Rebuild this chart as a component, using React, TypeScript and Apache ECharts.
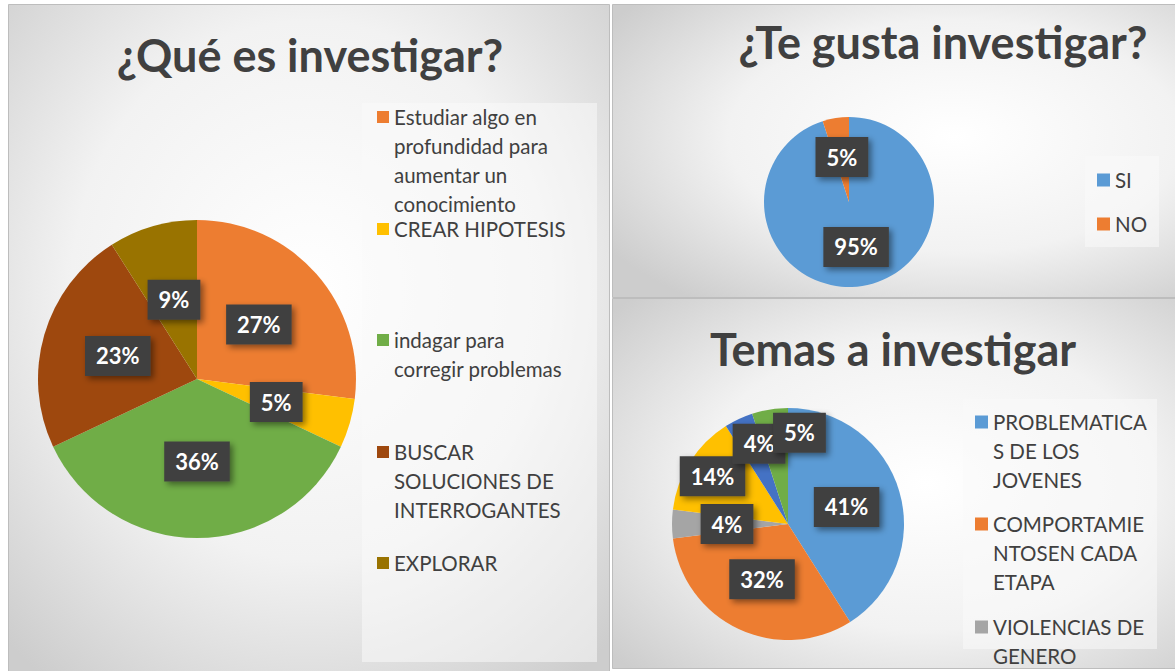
import React, { useEffect, useRef } from "react";
import * as echarts from "echarts";

// ---------- data ----------
const queCategories = [
  "Estudiar algo en profundidad para aumentar un conocimiento",
  "CREAR HIPOTESIS",
  "indagar para corregir problemas",
  "BUSCAR SOLUCIONES DE INTERROGANTES",
  "EXPLORAR",
];
const queValues = [27, 5, 36, 23, 9];
const queLegendLines = [
  ["Estudiar algo en", "profundidad para", "aumentar un", "conocimiento"],
  ["CREAR HIPOTESIS"],
  ["indagar para", "corregir problemas"],
  ["BUSCAR", "SOLUCIONES DE", "INTERROGANTES"],
  ["EXPLORAR"],
];

const gustaCategories = ["SI", "NO"];
const gustaValues = [95, 5];

const temasCategories = [
  "PROBLEMATICAS DE LOS JOVENES",
  "COMPORTAMIENTOSEN CADA ETAPA",
  "VIOLENCIAS DE GENERO",
  "Tema 4",
  "Tema 5",
  "Tema 6",
];
const temasValues = [41, 32, 4, 14, 4, 5];
const temasLegendLines = [
  ["PROBLEMATICA", "S DE LOS", "JOVENES"],
  ["COMPORTAMIE", "NTOSEN CADA", "ETAPA"],
  ["VIOLENCIAS DE", "GENERO"],
];

// ---------- styles ----------
const FONT = "Lato, 'Open Sans', sans-serif";
const queColors = ["#ED7D31", "#FFC000", "#70AD47", "#9E480E", "#997300"];
const gustaColors = ["#5B9BD5", "#ED7D31"];
const temasColors = ["#5B9BD5", "#ED7D31", "#A5A5A5", "#FFC000", "#4472C4", "#70AD47"];
const temasLabelNudge = [
  [0, 0],
  [0, 0],
  [0, 0],
  [-24, -15],
  [-3, -25],
  [21, -31],
];
const LINE_H = 29;

function labelStyle() {
  return {
    show: true,
    position: "inside",
    formatter: (p: any) => p.value + "%",
    color: "#ffffff",
    fontWeight: "bold",
    fontSize: 22,
    fontFamily: FONT,
    backgroundColor: "#404040",
    padding: [9, 11, 9, 11],
    shadowColor: "rgba(0,0,0,0.45)",
    shadowBlur: 6,
    shadowOffsetX: 3,
    shadowOffsetY: 3,
  };
}

function legendFor(name: string, lines: string[], left: number, iconY: number, icon: number) {
  const n = lines.length;
  const text = "\n".repeat(n - 1) + lines.join("\n");
  const blockH = (2 * n - 1) * LINE_H;
  return {
    data: [name],
    left,
    top: iconY - blockH / 2,
    orient: "vertical",
    padding: 0,
    icon: "rect",
    itemWidth: icon,
    itemHeight: icon,
    selectedMode: false,
    formatter: () => text,
    textStyle: {
      fontFamily: FONT,
      fontSize: 20.5,
      color: "#404040",
      lineHeight: LINE_H,
    },
  };
}

function panelBg(x: number, y: number, w: number, h: number, cx: number, cy: number) {
  return {
    type: "rect",
    shape: { x, y, width: w, height: h },
    style: {
      fill: new echarts.graphic.RadialGradient(cx, cy, 0.72, [
        { offset: 0, color: "#ffffff" },
        { offset: 0.55, color: "#f2f2f2" },
        { offset: 1, color: "#cdcdcd" },
      ]),
      stroke: "#bdbdbd",
      lineWidth: 1,
    },
    silent: true,
    z: -10,
  };
}

function legendBox(x: number, y: number, w: number, h: number) {
  return {
    type: "rect",
    shape: { x, y, width: w, height: h },
    style: { fill: "rgba(250,250,250,0.55)" },
    silent: true,
    z: -5,
  };
}

export default function App() {
  const ref = useRef<HTMLDivElement>(null);

  useEffect(() => {
    if (!ref.current) return;
    const chart = echarts.init(ref.current, undefined, { renderer: "svg" });

    const titleStyle = {
      fontFamily: FONT,
      fontWeight: "bold",
      fontSize: 45,
      color: "#404040",
    };

    const legends: any[] = [];
    const queIconY = [117, 229, 340, 452, 563];
    queCategories.forEach((c, i) =>
      legends.push(legendFor(c, queLegendLines[i], 377, queIconY[i], 12))
    );
    const gustaIconY = [180, 224];
    gustaCategories.forEach((c, i) =>
      legends.push(legendFor(c, [c], 1097, gustaIconY[i], 13))
    );
    const temasIconY = [422, 524, 627];
    temasLegendLines.forEach((lines, i) =>
      legends.push(legendFor(temasCategories[i], lines, 975, temasIconY[i], 13))
    );

    chart.setOption({
      animation: false,
      backgroundColor: "#ffffff",
      title: [
        { text: "¿Qué es investigar?", left: 305, top: 27, textAlign: "center", textStyle: titleStyle },
        { text: "¿Te gusta investigar?", left: 938, top: 14, textAlign: "center", textStyle: titleStyle },
        { text: "Temas a investigar", left: 888, top: 321, textAlign: "center", textStyle: titleStyle },
      ],
      legend: legends,
      graphic: [
        panelBg(8.5, 4.5, 601, 680, 0.5, 0.42),
        panelBg(612.5, 4.5, 570, 293, 0.6, 0.45),
        panelBg(612.5, 298.5, 570, 370, 0.55, 0.5),
        legendBox(362, 103, 235, 559),
        legendBox(1085, 156, 74, 91),
        legendBox(963, 399, 194, 250),
      ],
      series: [
        {
          name: "¿Qué es investigar?",
          type: "pie",
          center: [197, 379],
          radius: 159,
          startAngle: 90,
          clockwise: true,
          label: labelStyle(),
          labelLine: { show: false },
          emphasis: { disabled: true },
          data: queCategories.map((c, i) => ({
            name: c,
            value: queValues[i],
            itemStyle: { color: queColors[i] },
          })),
        },
        {
          name: "¿Te gusta investigar?",
          type: "pie",
          center: [849, 202],
          radius: 85,
          startAngle: 90,
          clockwise: true,
          label: labelStyle(),
          labelLine: { show: false },
          emphasis: { disabled: true },
          data: gustaCategories.map((c, i) => ({
            name: c,
            value: gustaValues[i],
            itemStyle: { color: gustaColors[i] },
          })),
        },
        {
          name: "Temas a investigar",
          type: "pie",
          center: [788, 524],
          radius: 116,
          startAngle: 90,
          clockwise: true,
          label: labelStyle(),
          labelLine: { show: false },
          labelLayout: (p: any) => ({
            dx: temasLabelNudge[p.dataIndex][0],
            dy: temasLabelNudge[p.dataIndex][1],
          }),
          emphasis: { disabled: true },
          data: temasCategories.map((c, i) => ({
            name: c,
            value: temasValues[i],
            itemStyle: { color: temasColors[i] },
          })),
        },
      ],
    });

    return () => chart.dispose();
  }, []);

  return (
    <div
      ref={ref}
      style={{ position: "absolute", left: 0, top: 0, width: 1175, height: 671 }}
    />
  );
}
